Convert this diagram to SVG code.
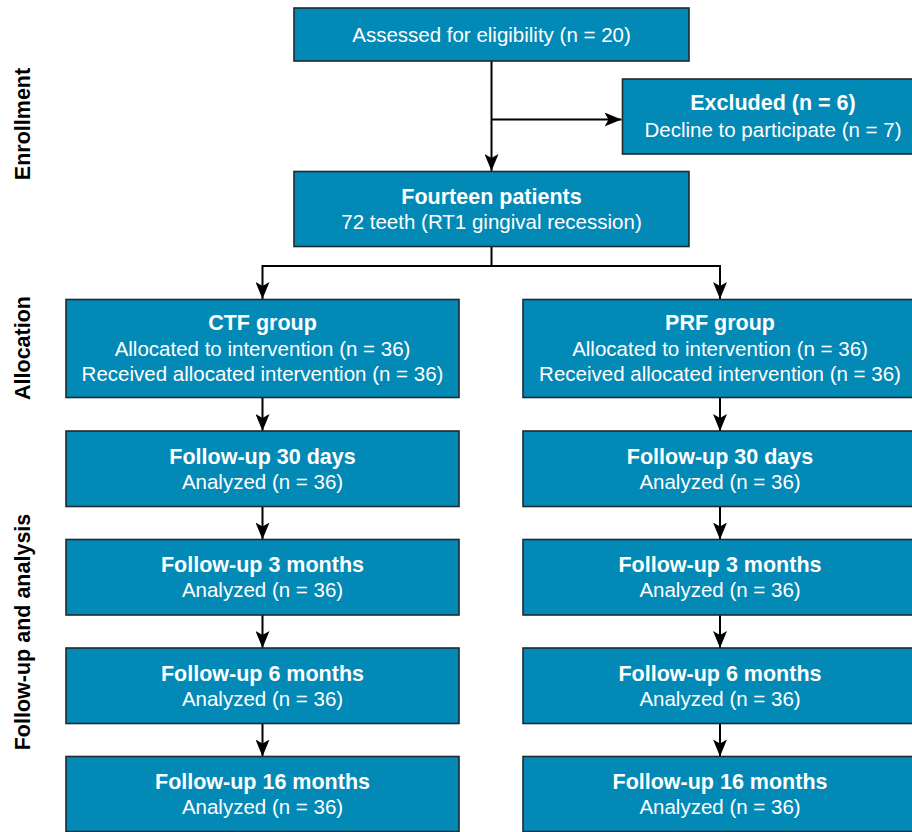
<svg xmlns="http://www.w3.org/2000/svg" width="912" height="832" viewBox="0 0 912 832">
<style>
.box{fill:#0389b6;stroke:#1e2a30;stroke-width:1.6}
.t{font-family:"Liberation Sans",Arial,sans-serif;font-size:20.5px;fill:#ffffff;text-anchor:middle}
.b{font-weight:bold;font-size:21.5px}
.side{font-family:"Liberation Sans",Arial,sans-serif;font-size:21.5px;font-weight:bold;fill:#000;text-anchor:middle}
.c{fill:none;stroke:#000;stroke-width:2}
</style>
<defs>
<marker id="ah" markerUnits="userSpaceOnUse" markerWidth="17" markerHeight="14" refX="17" refY="7" orient="auto">
<path d="M0,0 L17,7 L0,14 L4,7 z" fill="#000"/>
</marker>
</defs>
<rect width="912" height="832" fill="#ffffff"/>
<g id="side-labels">
<text class="side" transform="translate(30,124) rotate(-90)">Enrollment</text>
<text class="side" transform="translate(30,348) rotate(-90)">Allocation</text>
<text class="side" transform="translate(30,632) rotate(-90)">Follow-up and analysis</text>
</g>
<g id="connectors">
<path class="c" d="M491.5,61 V171" marker-end="url(#ah)"/>
<path class="c" d="M491.5,119.5 H621.5" marker-end="url(#ah)"/>
<path class="c" d="M491.5,246.5 V266 M262.5,266 H720"/>
<path class="c" d="M262.5,265 V299" marker-end="url(#ah)"/>
<path class="c" d="M720,265 V299" marker-end="url(#ah)"/>
<path class="c" d="M262.5,397.5 V431" marker-end="url(#ah)"/>
<path class="c" d="M720,397.5 V431" marker-end="url(#ah)"/>
<path class="c" d="M262.5,506.5 V539.5" marker-end="url(#ah)"/>
<path class="c" d="M720,506.5 V539.5" marker-end="url(#ah)"/>
<path class="c" d="M262.5,615 V648" marker-end="url(#ah)"/>
<path class="c" d="M720,615 V648" marker-end="url(#ah)"/>
<path class="c" d="M262.5,723.5 V756.5" marker-end="url(#ah)"/>
<path class="c" d="M720,723.5 V756.5" marker-end="url(#ah)"/>
</g>
<g id="assessed">
<rect class="box" x="294" y="8" width="395" height="53"/>
<text class="t" x="491.5" y="41.5">Assessed for eligibility (n = 20)</text>
</g>
<g id="excluded">
<rect class="box" x="622.5" y="79" width="300" height="75"/>
<text class="t b" x="773" y="110">Excluded (n = 6)</text>
<text class="t" x="773" y="136.5">Decline to participate (n = 7)</text>
</g>
<g id="fourteen">
<rect class="box" x="294" y="171.5" width="395" height="75"/>
<text class="t b" x="491.5" y="203.5">Fourteen patients</text>
<text class="t" x="491.5" y="228.5">72 teeth (RT1 gingival recession)</text>
</g>
<g id="ctf">
<rect class="box" x="66" y="299.5" width="393" height="98"/>
<text class="t b" x="262.5" y="330">CTF group</text>
<text class="t" x="262.5" y="355.5">Allocated to intervention (n = 36)</text>
<text class="t" x="262.5" y="381">Received allocated intervention (n = 36)</text>
</g>
<g id="prf">
<rect class="box" x="523" y="299.5" width="394" height="98"/>
<text class="t b" x="720" y="330">PRF group</text>
<text class="t" x="720" y="355.5">Allocated to intervention (n = 36)</text>
<text class="t" x="720" y="381">Received allocated intervention (n = 36)</text>
</g>
<g id="ctf-30d">
<rect class="box" x="66" y="431" width="393" height="75.5"/>
<text class="t b" x="262.5" y="463.5">Follow-up 30 days</text>
<text class="t" x="262.5" y="488.5">Analyzed (n = 36)</text>
</g>
<g id="prf-30d">
<rect class="box" x="523" y="431" width="394" height="75.5"/>
<text class="t b" x="720" y="463.5">Follow-up 30 days</text>
<text class="t" x="720" y="488.5">Analyzed (n = 36)</text>
</g>
<g id="ctf-3m">
<rect class="box" x="66" y="539.5" width="393" height="75.5"/>
<text class="t b" x="262.5" y="572">Follow-up 3 months</text>
<text class="t" x="262.5" y="597">Analyzed (n = 36)</text>
</g>
<g id="prf-3m">
<rect class="box" x="523" y="539.5" width="394" height="75.5"/>
<text class="t b" x="720" y="572">Follow-up 3 months</text>
<text class="t" x="720" y="597">Analyzed (n = 36)</text>
</g>
<g id="ctf-6m">
<rect class="box" x="66" y="648" width="393" height="75.5"/>
<text class="t b" x="262.5" y="680.5">Follow-up 6 months</text>
<text class="t" x="262.5" y="705.5">Analyzed (n = 36)</text>
</g>
<g id="prf-6m">
<rect class="box" x="523" y="648" width="394" height="75.5"/>
<text class="t b" x="720" y="680.5">Follow-up 6 months</text>
<text class="t" x="720" y="705.5">Analyzed (n = 36)</text>
</g>
<g id="ctf-16m">
<rect class="box" x="66" y="756.5" width="393" height="75"/>
<text class="t b" x="262.5" y="789">Follow-up 16 months</text>
<text class="t" x="262.5" y="814">Analyzed (n = 36)</text>
</g>
<g id="prf-16m">
<rect class="box" x="523" y="756.5" width="394" height="75"/>
<text class="t b" x="720" y="789">Follow-up 16 months</text>
<text class="t" x="720" y="814">Analyzed (n = 36)</text>
</g>
</svg>
